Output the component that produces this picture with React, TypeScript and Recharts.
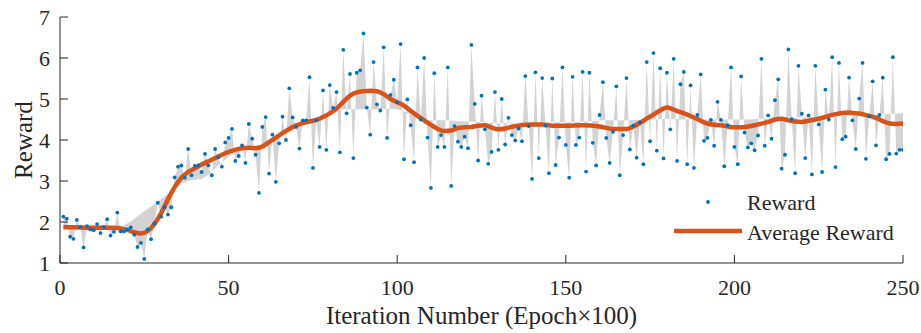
import React from 'react';
import { ComposedChart, Area, Line, Scatter, XAxis, YAxis } from 'recharts';

// Reward per iteration (epochs 1..250)
const rewards: number[] = [
  2.13, 2.08, 1.64, 1.59, 2.05, 1.88, 1.38, 1.90, 1.82, 1.80,
  1.95, 1.73, 1.88, 2.07, 1.67, 1.76, 2.23, 1.77, 1.77, 1.82,
  1.87, 1.69, 1.39, 1.49, 1.10, 1.82, 1.58, 1.97, 2.47, 2.13,
  2.36, 2.18, 2.36, 3.09, 3.35, 3.38, 3.08, 3.78, 3.14, 3.37,
  3.38, 3.22, 3.66, 3.38, 3.14, 3.78, 3.58, 3.35, 3.94, 4.05,
  4.27, 3.49, 3.61, 3.87, 3.44, 4.39, 4.03, 3.64, 2.71, 4.32,
  4.56, 3.18, 4.13, 2.98, 3.92, 4.57, 4.00, 5.26, 4.55, 4.32,
  3.79, 4.48, 4.48, 5.53, 3.32, 4.48, 3.83, 5.21, 3.76, 5.34,
  4.78, 5.17, 3.70, 6.20, 4.65, 5.61, 3.56, 5.64, 5.70, 6.60,
  4.79, 4.13, 5.90, 4.87, 4.72, 6.26, 4.05, 5.10, 5.47, 4.92,
  6.34, 3.53, 4.99, 4.36, 3.46, 5.77, 4.50, 6.00, 4.06, 2.83,
  5.63, 3.83, 4.12, 3.83, 5.77, 2.88, 4.34, 3.96, 3.83, 4.08,
  3.80, 6.32, 4.88, 3.50, 5.08, 4.26, 3.42, 3.71, 5.17, 3.76,
  5.00, 3.89, 4.54, 4.12, 3.99, 4.28, 3.97, 5.56, 4.34, 3.05,
  5.65, 3.56, 5.51, 4.35, 3.19, 5.50, 3.39, 4.06, 5.77, 3.88,
  3.08, 5.54, 3.88, 4.06, 5.66, 3.23, 5.64, 3.93, 3.38, 4.61,
  5.41, 4.05, 3.44, 4.20, 5.31, 3.14, 4.12, 5.51, 3.77, 4.35,
  3.57, 4.43, 3.41, 5.90, 3.97, 6.12, 3.74, 5.75, 3.55, 5.64,
  4.26, 5.98, 3.49, 5.36, 5.66, 3.41, 5.33, 3.32, 4.61, 5.60,
  3.98, 4.05, 4.49, 3.86, 4.93, 4.49, 3.36, 4.36, 5.77, 3.83,
  3.41, 5.55, 4.18, 3.82, 3.92, 3.75, 4.11, 5.98, 3.86, 4.60,
  4.03, 4.97, 5.48, 3.30, 3.64, 6.21, 4.51, 3.19, 5.81, 4.64,
  3.56, 4.60, 3.16, 5.81, 4.38, 3.22, 5.23, 4.50, 6.02, 3.34,
  5.88, 4.02, 4.08, 5.52, 4.48, 3.78, 5.01, 5.88, 3.54, 4.58,
  5.43, 3.87, 4.61, 5.52, 3.53, 3.66, 6.02, 3.67, 3.76, 3.76,
];

// Running reference level that bounds the grey spread band
const spreadEdge: number[] = [
  1.87, 1.87, 1.87, 1.87, 1.86, 1.86, 1.86, 1.86, 1.86, 1.86,
  1.86, 1.86, 1.86, 1.86, 1.86, 1.86, 1.86, 1.88, 1.92, 1.97,
  2.02, 2.08, 2.14, 2.20, 2.26, 2.32, 2.38, 2.44, 2.50, 2.56,
  2.62, 2.68, 2.75, 2.82, 2.88, 2.93, 2.97, 3.00, 3.02, 3.03,
  3.04, 3.05, 3.10, 3.15, 3.22, 3.30, 3.38, 3.45, 3.52, 3.60,
  3.66, 3.70, 3.74, 3.77, 3.79, 3.80, 3.80, 3.80, 3.81, 3.85,
  3.92, 3.99, 4.05, 4.10, 4.15, 4.20, 4.25, 4.30, 4.33, 4.36,
  4.39, 4.42, 4.44, 4.46, 4.48, 4.50, 4.52, 4.55, 4.58, 4.62,
  4.66, 4.70, 4.73, 4.75, 4.75, 4.75, 4.75, 4.75, 4.75, 4.75,
  4.75, 4.75, 4.75, 4.75, 4.75, 4.75, 4.76, 4.76, 4.76, 4.75,
  4.73, 4.70, 4.66, 4.62, 4.58, 4.55, 4.52, 4.50, 4.49, 4.48,
  4.48, 4.48, 4.48, 4.48, 4.48, 4.47, 4.47, 4.46, 4.46, 4.45,
  4.45, 4.45, 4.44, 4.44, 4.44, 4.43, 4.42, 4.42, 4.42, 4.41,
  4.41, 4.41, 4.41, 4.40, 4.40, 4.40, 4.40, 4.41, 4.41, 4.41,
  4.42, 4.42, 4.42, 4.42, 4.42, 4.43, 4.43, 4.43, 4.43, 4.43,
  4.43, 4.44, 4.44, 4.44, 4.45, 4.45, 4.46, 4.46, 4.47, 4.47,
  4.48, 4.48, 4.48, 4.48, 4.48, 4.48, 4.48, 4.48, 4.48, 4.49,
  4.49, 4.49, 4.49, 4.50, 4.50, 4.50, 4.50, 4.51, 4.51, 4.51,
  4.51, 4.51, 4.51, 4.50, 4.50, 4.50, 4.50, 4.50, 4.50, 4.50,
  4.50, 4.50, 4.50, 4.50, 4.50, 4.50, 4.50, 4.50, 4.50, 4.50,
  4.50, 4.50, 4.50, 4.50, 4.50, 4.51, 4.51, 4.51, 4.52, 4.52,
  4.52, 4.52, 4.53, 4.53, 4.53, 4.54, 4.54, 4.54, 4.55, 4.55,
  4.55, 4.56, 4.56, 4.56, 4.57, 4.57, 4.57, 4.58, 4.58, 4.58,
  4.59, 4.59, 4.59, 4.60, 4.60, 4.60, 4.61, 4.61, 4.61, 4.62,
  4.62, 4.62, 4.63, 4.63, 4.63, 4.64, 4.64, 4.64, 4.65, 4.65,
];

// Smoothed average reward, sampled at these epochs
const avgEpochs: number[] = [
  1, 4, 8, 12, 16, 18, 20, 22, 24, 26, 28, 30, 32, 34, 36, 38, 40, 42, 44, 46,
  48, 50, 52, 54, 56, 58, 60, 62, 64, 66, 68, 70, 72, 74, 76, 78, 80, 82, 84, 86,
  88, 90, 92, 94, 96, 98, 100, 102, 104, 106, 108, 110, 112, 114, 116, 118, 120, 122, 124, 126,
  128, 130, 132, 134, 136, 138, 140, 143, 146, 150, 155, 160, 164, 168, 170, 172, 174, 176, 178, 180,
  182, 184, 186, 188, 190, 192, 194, 196, 198, 200, 202, 204, 206, 208, 210, 212, 214, 216, 218, 220,
  222, 224, 226, 228, 230, 232, 234, 236, 238, 240, 242, 244, 246, 248, 250,
];
const avgValues: number[] = [
  1.87, 1.87, 1.86, 1.86, 1.86, 1.84, 1.80, 1.75, 1.72, 1.78, 1.95, 2.22, 2.55, 2.85, 3.08, 3.22, 3.31, 3.40, 3.48, 3.56,
  3.64, 3.71, 3.76, 3.80, 3.81, 3.80, 3.84, 3.95, 4.06, 4.17, 4.27, 4.35, 4.41, 4.45, 4.49, 4.56, 4.65, 4.76, 4.93, 5.08,
  5.16, 5.19, 5.20, 5.19, 5.12, 5.00, 4.92, 4.84, 4.71, 4.59, 4.48, 4.37, 4.27, 4.22, 4.23, 4.29, 4.31, 4.32, 4.35, 4.36,
  4.30, 4.26, 4.28, 4.32, 4.35, 4.37, 4.38, 4.38, 4.35, 4.35, 4.36, 4.33, 4.27, 4.27, 4.33, 4.42, 4.52, 4.62, 4.72, 4.79,
  4.74, 4.68, 4.62, 4.55, 4.47, 4.40, 4.37, 4.36, 4.33, 4.31, 4.31, 4.33, 4.36, 4.40, 4.44, 4.50, 4.52, 4.48, 4.45, 4.44,
  4.47, 4.50, 4.54, 4.59, 4.63, 4.66, 4.67, 4.65, 4.63, 4.59, 4.54, 4.46, 4.40, 4.39, 4.40,
];

const xTicks = [0, 50, 100, 150, 200, 250];
const yTicks = [1, 2, 3, 4, 5, 6, 7];
const seriesNames = ['Reward', 'Average Reward'];

const rewardData = rewards.map((r, i) => ({
  epoch: i + 1,
  reward: r,
  spread: [spreadEdge[i], r],
}));
const avgData = avgEpochs.map((e, i) => ({ epoch: e, avg: avgValues[i] }));

const SERIF = '"Liberation Serif", "Times New Roman", Times, serif';
const AXIS = '#262626';
const BLUE = '#0072BD';
const ORANGE = '#D95319';

const Dot = (p: any) => <circle cx={p.cx} cy={p.cy} r={1.9} fill={BLUE} />;

// Key for the two series, placed in the lower right of the plot
const LegendBox = () => (
  <svg width={260} height={70} style={{ position: 'absolute', left: 660, top: 186 }}>
    <circle cx={48} cy={16} r={1.9} fill={BLUE} />
    <text x={87} y={24} fontFamily={SERIF} fontSize={22} fill={AXIS}>{seriesNames[0]}</text>
    <line x1={14} x2={82} y1={45} y2={45} stroke={ORANGE} strokeWidth={4.5} />
    <text x={87} y={54} fontFamily={SERIF} fontSize={22} fill={AXIS}>{seriesNames[1]}</text>
  </svg>
);

const YTitle = (props: any) => {
  const vb = props.viewBox || {};
  const x = 32;
  const y = vb.y + vb.height / 2;
  return (
    <text x={x} y={y} transform={`rotate(-90 ${x} ${y})`} textAnchor="middle"
      fontFamily={SERIF} fontSize={25} fill={AXIS}>Reward</text>
  );
};

export default function App() {
  return (
    <div style={{ position: 'absolute', left: 0, top: 0, width: 921, height: 333, background: '#fff' }}>
      <ComposedChart width={921} height={333} data={rewardData}
        margin={{ top: 17, right: 18, bottom: 0, left: 0 }}>
        <XAxis dataKey="epoch" type="number" domain={[0, 250]} ticks={xTicks} interval={0}
          allowDataOverflow height={70} stroke={AXIS} tickSize={-8} tickMargin={24}
          tick={{ fontFamily: SERIF, fontSize: 22, fill: AXIS }}
          label={{ value: 'Iteration Number (Epoch×100)', position: 'insideBottom', offset: 9,
            style: { fontFamily: SERIF, fontSize: 25, fill: AXIS } }} />
        <YAxis type="number" domain={[1, 7]} ticks={yTicks} interval={0} allowDataOverflow width={60}
          stroke={AXIS} tickSize={-8} tickMargin={18}
          tick={{ fontFamily: SERIF, fontSize: 22, fill: AXIS }}
          label={<YTitle />} />
        <Area dataKey="spread" type="linear" fill="#d3d3d4" fillOpacity={1} stroke="none"
          isAnimationActive={false} legendType="none" activeDot={false} />
        <Scatter dataKey="reward" name={seriesNames[0]} fill={BLUE} shape={Dot} isAnimationActive={false} />
        <Line data={avgData} dataKey="avg" name={seriesNames[1]} type="monotone" stroke={ORANGE}
          strokeWidth={4.5} dot={false} activeDot={false} isAnimationActive={false} />
      </ComposedChart>
      <LegendBox />
    </div>
  );
}
